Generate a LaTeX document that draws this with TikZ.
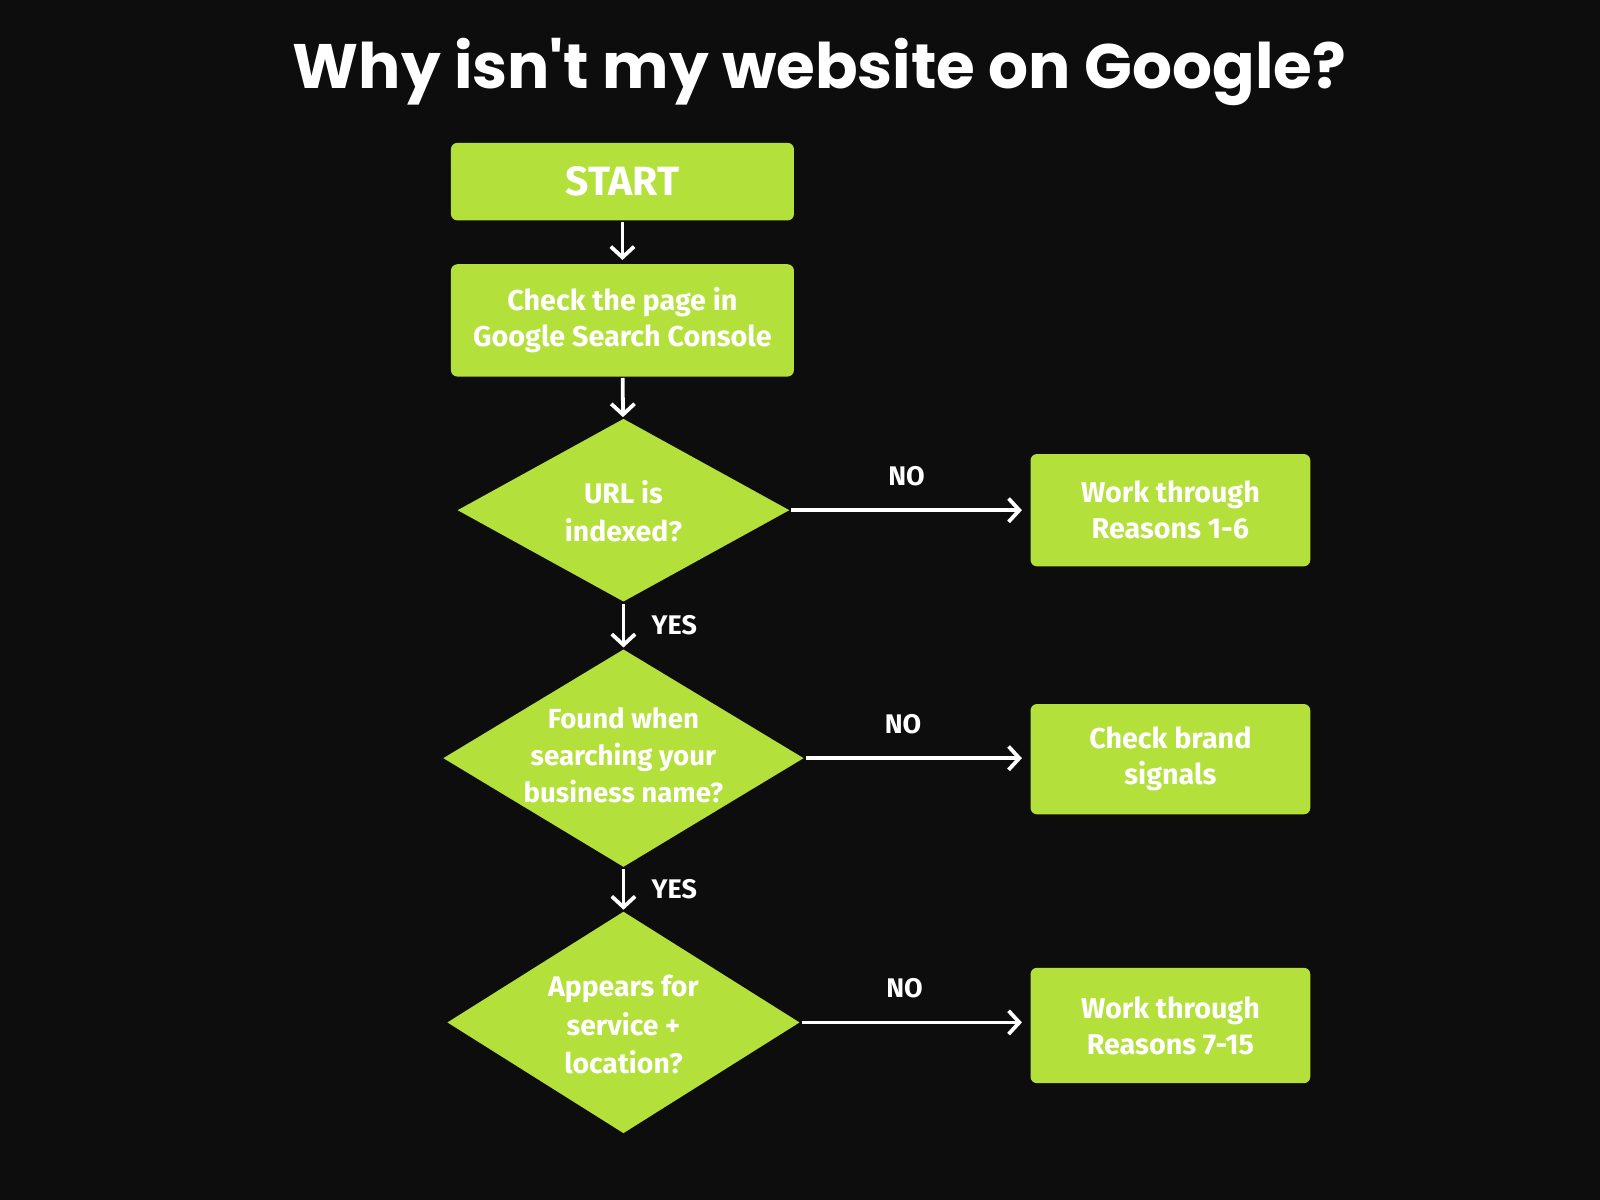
\documentclass[tikz,border=0pt]{standalone}
\usepackage{fontspec}
\setmainfont{Fira Sans}
\newfontfamily\titlefont{Poppins}
\usetikzlibrary{positioning}
\usetikzlibrary{shapes.geometric}
\usetikzlibrary{arrows.meta}
\definecolor{bg}{HTML}{0D0D0D}
\definecolor{leaf}{HTML}{B4E03C}

\begin{document}
\begin{tikzpicture}[x=0.01cm, y=-0.01cm, thick,
	step box/.style={rectangle, fill=leaf, rounded corners=1.8pt, inner sep=0pt,
		minimum width=3.36cm, text=white, align=center,
		font=\fontsize{8pt}{10pt}\selectfont\bfseries},
	end box/.style={step box, minimum width=2.74cm},
	decision/.style={diamond, fill=leaf, inner sep=0pt},
	dtext/.style={text=white, align=center, font=\fontsize{7.7pt}{10.4pt}\selectfont\bfseries},
	answer/.style={text=white, font=\fontsize{7.5pt}{8pt}\selectfont\bfseries},
	flow/.style={draw=white, line width=1.05pt, -{Straight Barb[length=3pt,width=6.5pt,line width=1.05pt]}}]
	\fill[bg] (0,0) rectangle (1568,1176);
	\node[text=white, font=\titlefont\fontsize{17.5pt}{20pt}\selectfont\bfseries] (title) at (803,71) {Why isn't my website on Google?};
	% main column
	\node[step box, minimum height=0.76cm, font=\fontsize{11.4pt}{12pt}\selectfont\bfseries] (start) at (610,178) {START};
	\node[step box, minimum height=1.10cm] (gsc) at (610,314) {Check the page in\\Google Search Console};
	\node[decision, minimum width=3.26cm, minimum height=1.80cm] (q1) at (611,500) {};
	\node[dtext, font=\fontsize{7.9pt}{10.8pt}\selectfont\bfseries] (q1t) at (611,501) {URL is\\indexed?};
	\node[decision, minimum width=3.54cm, minimum height=2.14cm] (q2) at (611,743) {};
	\node[dtext] (q2t) at (611,740) {Found when\\searching your\\business name?};
	\node[decision, minimum width=3.46cm, minimum height=2.18cm] (q3) at (611,1002) {};
	\node[dtext, font=\fontsize{7.9pt}{10.8pt}\selectfont\bfseries] (q3t) at (611,1004) {Appears for\\service +\\location?};
	% right column
	\node[end box, minimum height=1.10cm] (r1) at (1147,500) {Work through\\Reasons 1-6};
	\node[end box, minimum height=1.08cm] (r2) at (1147,744) {Check brand\\signals};
	\node[end box, minimum height=1.13cm] (r3) at (1147,1005) {Work through\\Reasons 7-15};
	% connectors
	\draw[flow, shorten >=0.8pt] (start) -- (gsc);
	\draw[flow] (gsc) -- (q1);
	\draw[flow] (q1) -- node[answer, right=4pt] (y1) {YES} (q2);
	\draw[flow] (q2) -- node[answer, right=4pt] (y2) {YES} (q3);
	\draw[flow, shorten >=2pt] (q1.east) -- node[answer, above=3pt, xshift=-1pt] (n1) {NO} (q1.east -| r1.west);
	\draw[flow, shorten >=2pt] (q2.east) -- node[answer, above=3pt, xshift=-4pt] (n2) {NO} (q2.east -| r2.west);
	\draw[flow, shorten >=2pt] (q3.east) -- node[answer, above=3pt, xshift=-3pt] (n3) {NO} (q3.east -| r3.west);
\end{tikzpicture}
\end{document}
